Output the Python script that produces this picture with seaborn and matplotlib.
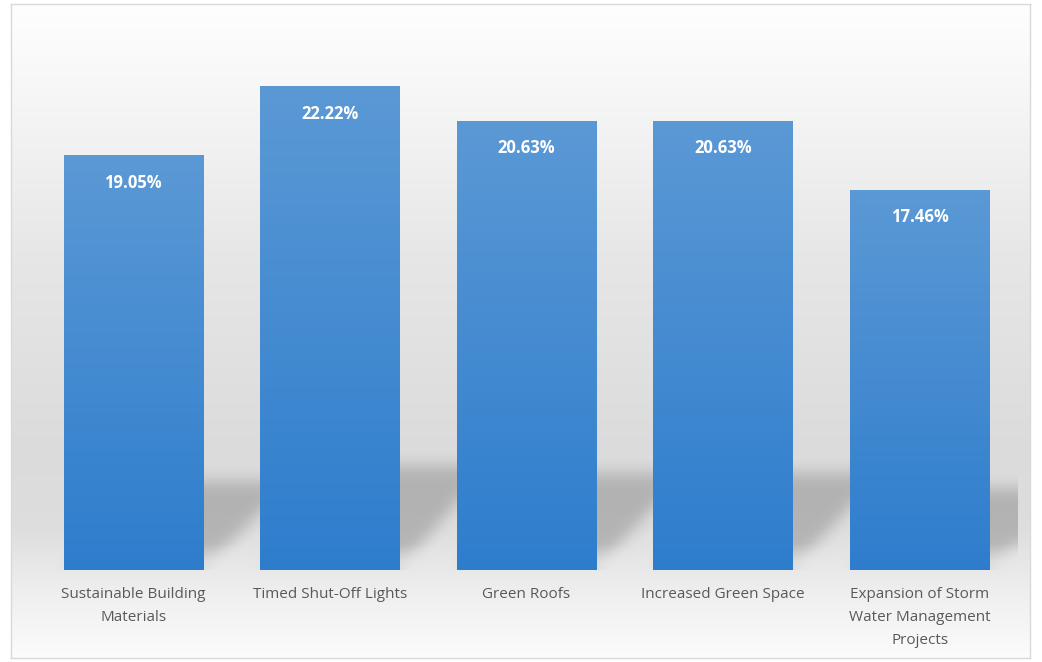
import numpy as np
import matplotlib
matplotlib.use("Agg")
import matplotlib.pyplot as plt
import seaborn as sns
from matplotlib.colors import LinearSegmentedColormap

# ---- data ----
categories = [
    "Sustainable Building\nMaterials",
    "Timed Shut-Off Lights",
    "Green Roofs",
    "Increased Green Space",
    "Expansion of Storm\nWater Management\nProjects",
]
values = [19.05, 22.22, 20.63, 20.63, 17.46]
value_labels = ["19.05%", "22.22%", "20.63%", "20.63%", "17.46%"]

sns.set_theme(style="white")
plt.rcParams["font.family"] = ["Open Sans", "DejaVu Sans"]

W, H = 1042, 662
fig = plt.figure(figsize=(W / 100, H / 100), dpi=100)
fig.patch.set_facecolor("white")

# ---- chart-area background (vertical gray gradient) ----
bg = fig.add_axes([11 / W, 4 / H, 1019 / W, 654 / H], zorder=0)
stops_pos = [0.0, 0.08, 0.38, 0.68, 0.80, 0.90, 1.0]
stops_val = [0.995, 0.98, 0.905, 0.86, 0.868, 0.935, 0.987]
t = np.linspace(0, 1, 400)
g = np.interp(t, stops_pos, stops_val)
img = np.repeat(g[:, None], 2, axis=1)
img = np.dstack([img, img, img])
bg.imshow(img, aspect="auto", extent=(0, 1, 0, 1), origin="upper")
bg.set_xlim(0, 1)
bg.set_ylim(0, 1)
bg.set_xticks([])
bg.set_yticks([])
for s in bg.spines.values():
    s.set_color("#d9d9d9")
    s.set_linewidth(1.0)

# ---- main axes ----
ax = fig.add_axes([35 / W, 92 / H, (1018 - 35) / W, (636 - 92) / H], zorder=1)
ax.set_facecolor("none")

sns.barplot(x=categories, y=values, ax=ax, width=0.71, color="#4a8dd2",
            saturation=1, zorder=3)
ax.set_xlim(-0.5, len(values) - 0.5)
ax.set_ylim(0, 25)

# ---- perspective shadows (blurred) ----
gw, gh = 983, 544
xs = np.linspace(-0.5, len(values) - 0.5, gw)
ys = np.linspace(0, 25, gh)
XX, YY = np.meshgrid(xs, ys)
mask = np.zeros((gh, gw))
dx_frac = 0.45
for p in ax.patches:
    x0, w, h = p.get_x(), p.get_width(), p.get_height()
    hs = 0.215 * h
    inside = (YY >= 0) & (YY <= hs)
    shift = dx_frac * (YY / hs)
    inside &= (XX - shift >= x0) & (XX - shift <= x0 + w)
    mask[inside] = 1.0


def box_blur(a, r, axis):
    a = np.moveaxis(a, axis, 0)
    pad = np.pad(a, ((r + 1, r), (0, 0)), mode="edge")
    c = np.cumsum(pad, axis=0)
    out = (c[2 * r + 1:] - c[:-2 * r - 1]) / (2 * r + 1)
    return np.moveaxis(out, 0, axis)


b = mask
for _ in range(3):
    b = box_blur(b, 7, 0)
    b = box_blur(b, 6, 1)
fade = np.clip(YY / 1.2, 0.3, 1.0)
alpha = 0.19 * b * fade
shadow = np.zeros((gh, gw, 4))
shadow[..., 3] = alpha
ax.imshow(shadow, extent=(-0.5, len(values) - 0.5, 0, 25), origin="lower",
          aspect="auto", zorder=1, interpolation="bilinear")
ax.set_xlim(-0.5, len(values) - 0.5)
ax.set_ylim(0, 25)

# ---- bar gradients ----
cmap = LinearSegmentedColormap.from_list("barg", ["#2e7dcd", "#5b99d5"])
grad = np.linspace(0, 1, 256)[:, None]
for p in ax.patches:
    x0, w, h = p.get_x(), p.get_width(), p.get_height()
    p.set_zorder(3)
    p.set_edgecolor("none")
    im = ax.imshow(grad, cmap=cmap, extent=(x0, x0 + w, 0, h), origin="lower",
                   aspect="auto", zorder=4)
    im.set_clip_path(p)

# ---- value labels ----
for i, (v, lab) in enumerate(zip(values, value_labels)):
    ax.text(i, v - 1.25, lab, ha="center", va="center", color="white",
            fontsize=12, fontweight="bold", zorder=6)

ax.set_ylim(0, 25)
ax.set_yticks([])
ax.tick_params(axis="x", length=0, pad=12.5, labelsize=11, labelcolor="#595959")
for lbl in ax.get_xticklabels():
    lbl.set_linespacing(1.72)
for s in ax.spines.values():
    s.set_visible(False)
ax.grid(False)
ax.set_xlabel("")
ax.set_ylabel("")

fig.savefig("out.png", dpi=100)
